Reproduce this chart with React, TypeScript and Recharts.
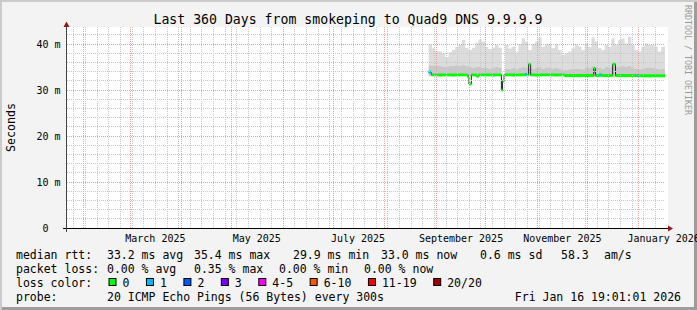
import React from "react";
import { ComposedChart, Area, XAxis, YAxis, ReferenceLine } from "recharts";

const FONT = "'DejaVu Sans Mono', 'Liberation Mono', monospace";
const DAY = 86400000;

// graph window (last 360 days)
const START = "2025-01-21T19:01:01Z";
const END = "2026-01-16T19:01:01Z";

// axis labels / grid
const X_LABELS = ["2025-03-16", "2025-05-16", "2025-07-16", "2025-09-16", "2025-11-16", "2026-01-16"];
const MONTH_STARTS = [
  "2025-02-01", "2025-03-01", "2025-04-01", "2025-05-01", "2025-06-01", "2025-07-01",
  "2025-08-01", "2025-09-01", "2025-10-01", "2025-11-01", "2025-12-01", "2026-01-01",
];
const FIRST_SUNDAY = "2025-01-26";
const MONTH_NAMES = ["January", "February", "March", "April", "May", "June", "July",
  "August", "September", "October", "November", "December"];
const Y_TICKS = [0, 10, 20, 30, 40];
const Y_TOP = 43.7;

// smoke: one sample every 2 days from SMOKE_FROM (ms values)
const SMOKE_FROM = "2025-08-27T12:00Z";
const SMOKE_STEP_DAYS = 2;
const SMOKE_MIN = [
  33.0, 33.0, 33.0, 32.9, 33.0, 33.0, 33.0, 32.9, 33.0, 33.0, 33.0, 33.0,
  33.0, 33.0, 32.9, 33.0, 33.0, 33.0, 33.0, 32.9, 33.0, 33.0,
  null,
  33.0, 33.0, 32.9, 33.0, 33.0, 33.0, 33.0, 33.0, 33.0, 32.9, 33.0, 33.0, 33.0,
  33.0, 33.0, 32.9, 33.0, 33.0, 32.8, 32.85, 32.85, 32.8, 32.7, 32.85, 32.85, 32.8,
  32.85, 32.85, 32.8, 32.85, 32.85, 32.85, 32.8, 32.85, 32.85, 32.85, 32.8, 32.85,
  32.85, 32.8, 32.85, 32.85, 32.85, 32.8, 32.85, 32.85, 32.85, 32.8, 32.85,
];
const SMOKE_MID = [
  35.4, 35.3, 35.2, 35.3, 35.1, 35.0, 35.2, 35.3, 35.4, 35.3, 35.5, 35.2,
  35.0, 34.8, 35.0, 35.1, 34.9, 34.8, 34.7, 34.9, 35.0, 34.8,
  null,
  34.7, 34.6, 34.8, 34.5, 34.9, 35.0, 34.8, 34.6, 34.7, 34.9, 35.0, 34.7, 34.8,
  34.9, 34.7, 34.8, 34.6, 34.3, 34.4, 34.5, 34.6, 34.7, 34.6, 34.5, 34.8, 34.9,
  35.3, 35.1, 34.9, 34.7, 35.0, 34.9, 35.2, 35.0, 35.1, 35.2, 35.0, 35.3,
  34.9, 34.6, 34.5, 34.7, 34.9, 34.8, 34.8, 34.7, 34.5, 34.7, 34.7,
];
const SMOKE_MAX = [
  39.9, 39.1, 38.5, 38.4, 38.0, 37.2, 38.2, 38.7, 39.4, 39.8, 40.9, 39.2,
  38.7, 39.2, 40.3, 41.0, 40.5, 39.4, 38.9, 39.2, 39.8, 39.2,
  null,
  39.8, 39.0, 39.4, 38.2, 40.0, 41.2, 40.5, 38.7, 40.0, 40.5, 41.4, 39.4, 40.0,
  39.9, 39.1, 40.0, 38.7, 37.6, 38.0, 38.4, 39.1, 39.8, 39.4, 38.7, 40.1, 39.4,
  41.4, 40.5, 39.1, 38.7, 39.8, 39.4, 41.2, 39.8, 40.9, 41.2, 40.1, 41.6,
  39.8, 38.7, 38.4, 39.4, 40.1, 39.8, 39.8, 39.4, 38.4, 39.4, 39.4,
];

// median rtt: value holds from each time until the next one
const MEDIAN_TIMES = [
  "2025-08-27T12:00Z", "2025-08-29T06:00Z", "2025-09-20T05:00Z", "2025-09-20T19:00Z",
  "2025-09-22T05:00Z", "2025-09-25T10:00Z", "2025-09-26T14:00Z", "2025-10-10T07:00Z",
  "2025-10-11T00:00Z", "2025-10-11T22:00Z", "2025-10-24T10:00Z", "2025-10-25T14:00Z",
  "2025-10-26T17:00Z", "2025-10-27T22:00Z", "2025-11-17T07:00Z", "2025-12-04T22:00Z",
  "2025-12-05T22:00Z", "2025-12-08T07:00Z", "2025-12-09T12:00Z", "2025-12-16T07:00Z",
  "2025-12-18T00:00Z", "2025-12-30T19:00Z", "2026-01-01T00:00Z", END,
];
const MEDIAN_VALUES = [
  33.9, 33.3, 32.7, 31.3, 33.3, 33.0, 33.3, 30.0, 32.0, 33.3, 33.4, 33.3,
  35.6, 33.3, 33.15, 34.7, 33.15, 33.3, 33.15, 35.6, 33.15, 33.15, 33.1,
];
const MEDIAN_LOSS = [1, 0, 0, 0, 0, 0, 0, 0, 0, 0, 1, 0, 0, 0, 0, 0, 0, 1, 0, 0, 0, 1, 0];
const HALF_W = 0.31; // half thickness of the loss-coloured median bar

const LOSS_LEGEND = [
  ["0", "#00ff00"], ["1", "#00b8ff"], ["2", "#0059ff"], ["3", "#7e00ff"],
  ["4-5", "#ff00ff"], ["6-10", "#ff5500"], ["11-19", "#ff0000"], ["20/20", "#a10000"],
];
const RTT_STATS = [["33.2 ms avg", 107], ["35.4 ms max", 194], ["29.9 ms min", 293],
  ["33.0 ms now", 381], ["0.6 ms sd", 480], ["58.3", 561], ["am/s", 604]];
const LOSS_STATS = [["0.00 % avg", 107], ["0.35 % max", 194], ["0.00 % min", 279], ["0.00 % now", 364]];

const t = (s: string) => Date.parse(s);

function steps(times: number[], vals: any[]) {
  const out: any[] = [];
  vals.forEach((v, i) => {
    out.push({ t: times[i], band: v });
    if (v != null && (i === vals.length - 1 || vals[i + 1] == null)) out.push({ t: times[i + 1], band: v });
  });
  return out;
}

const smokeTimes = SMOKE_MAX.map((_, k) => t(SMOKE_FROM) + k * SMOKE_STEP_DAYS * DAY).concat([t(END)]);
const smokeDark = steps(smokeTimes, SMOKE_MAX.map((m, k) => (m == null ? null : [SMOKE_MIN[k], SMOKE_MID[k]])));
const smokeLight = steps(smokeTimes, SMOKE_MAX.map((m, k) => (m == null ? null : [SMOKE_MID[k], m])));

const medTimes = MEDIAN_TIMES.map(t);
const medLine = steps(medTimes, MEDIAN_VALUES);
const greenBand = steps(medTimes, MEDIAN_VALUES.map((v) => [v - HALF_W, v + HALF_W]));
const blueBand = steps(medTimes, MEDIAN_VALUES.map((v, i) => (MEDIAN_LOSS[i] === 1 ? [v - HALF_W, v + HALF_W] : null)));

const weekLines: number[] = [];
for (let w = t(FIRST_SUNDAY); w < t(END); w += 7 * DAY) weekLines.push(w);
const minorY: number[] = [];
for (let v = 2; v < Y_TOP; v += 2) if (v % 10) minorY.push(v);

const monthLabel = (v: number) => {
  const d = new Date(v);
  return `${MONTH_NAMES[d.getUTCMonth()]} ${d.getUTCFullYear()}`;
};

const XTick = ({ x, y, payload }: any) => (
  <text x={x} y={y + 13.5} textAnchor="middle" fontFamily={FONT} fontSize={10} fill="#000">
    {monthLabel(payload.value)}
  </text>
);

const YTick = ({ x, y, payload }: any) => (
  <text x={payload.value === 0 ? x - 18.5 : x - 6.5} y={y + 3.6} textAnchor="end" fontFamily={FONT} fontSize={10} fill="#000">
    {payload.value === 0 ? "0" : `${payload.value} m`}
  </text>
);

export default function App() {
  let bx = 108.5;
  const boxes = LOSS_LEGEND.map(([label, color]) => {
    const x = bx;
    bx = x + 14.5 + label.length * 6.95 + 16;
    return (
      <g key={label}>
        <rect x={x + 0.5} y={278.5} width={7} height={7} fill={color} stroke="#000" />
        <text x={x + 14} y={286.5}>{label}</text>
      </g>
    );
  });

  return (
    <div style={{ position: "absolute", left: 0, top: 0, width: 697, height: 310, background: "#f3f3f3",
      boxShadow: "inset 2px 2px 0 #cbcbcb, inset -3px -3px 0 #9c9c9c" }}>
      <div style={{ position: "absolute", left: 67, top: 27, width: 601, height: 201, background: "#fff" }} />
      <div style={{ position: "absolute", left: 0, top: 0 }}>
        <ComposedChart width={697} height={310} margin={{ top: 27, right: 32, bottom: 62, left: 0 }}
          style={{ fontFamily: FONT }}>
          <XAxis dataKey="t" type="number" domain={[t(START), t(END)]} allowDataOverflow
            ticks={X_LABELS.map(t)} interval={0} tick={<XTick />} tickLine={false} axisLine={false}
            tickSize={0} tickMargin={0} height={20} />
          <YAxis type="number" domain={[0, Y_TOP]} allowDataOverflow ticks={Y_TICKS} interval={0}
            tick={<YTick />} tickLine={false} axisLine={false} tickSize={0} tickMargin={0} width={67} />

          <Area data={smokeLight} dataKey="band" type="stepAfter" fill="#dcdcdc" fillOpacity={1}
            stroke="none" isAnimationActive={false} dot={false} activeDot={false} />
          <Area data={smokeDark} dataKey="band" type="stepAfter" fill="#c8c8c8" fillOpacity={1}
            stroke="none" isAnimationActive={false} dot={false} activeDot={false} />

          {minorY.map((v) => (
            <ReferenceLine key={"hy" + v} y={v} stroke="#c8c8c8" strokeDasharray="1 1" shapeRendering="crispEdges" />
          ))}
          {weekLines.map((w) => (
            <ReferenceLine key={"wk" + w} x={w} stroke="#c8c8c8" strokeDasharray="1 1" shapeRendering="crispEdges" />
          ))}
          {Y_TICKS.filter((v) => v > 0).map((v) => (
            <ReferenceLine key={"my" + v} y={v} stroke="#eaa0a0" strokeDasharray="1 1" shapeRendering="crispEdges" />
          ))}
          {MONTH_STARTS.map((m) => (
            <ReferenceLine key={"mo" + m} x={t(m)} stroke="#eaa0a0" strokeDasharray="1 1" shapeRendering="crispEdges" />
          ))}

          {/* median: thin dark step line, then loss-coloured bars over it */}
          <Area data={medLine} dataKey="band" type="stepAfter" stroke="#202020" strokeWidth={1} fill="none"
            isAnimationActive={false} dot={false} activeDot={false} />
          <Area data={greenBand} dataKey="band" type="stepAfter" fill="#00ff00" fillOpacity={1}
            stroke="none" isAnimationActive={false} dot={false} activeDot={false} />
          <Area data={blueBand} dataKey="band" type="stepAfter" fill="#00b8ff" fillOpacity={1}
            stroke="none" isAnimationActive={false} dot={false} activeDot={false} />
        </ComposedChart>
      </div>

      <svg width={697} height={310} style={{ position: "absolute", left: 0, top: 0, pointerEvents: "none" }}
        fontFamily={FONT}>
        <line x1={63} y1={228.5} x2={668} y2={228.5} stroke="#000" />
        <polygon points="668,225.5 673,228.5 668,231.5" fill="#8b1a1a" />
        <line x1={66.5} y1={26} x2={66.5} y2={232} stroke="#444" />
        <polygon points="63.5,27 66.5,21.5 69.5,27" fill="#8b1a1a" />

        <text x={348} y={24} textAnchor="middle" fontSize={13.2} fill="#000">
          Last 360 Days from smokeping to Quad9 DNS 9.9.9.9
        </text>
        <text transform="translate(15,127.5) rotate(-90)" textAnchor="middle" fontSize={11.6} fill="#000">
          Seconds
        </text>
        <text transform="translate(684.5,5) rotate(90)" fontSize={8.3} fill="#9a9a9a">
          RRDTOOL / TOBI OETIKER
        </text>

        <g fontSize={11.5} fill="#000">
          <text x={16} y={258.5}>median rtt:</text>
          {RTT_STATS.map(([s, x]) => <text key={"r" + s} x={x as number} y={258.5}>{s}</text>)}
          <text x={16} y={272.5}>packet loss:</text>
          {LOSS_STATS.map(([s, x], i) => <text key={"l" + i} x={x as number} y={272.5}>{s}</text>)}
          <text x={16} y={286.5}>loss color:</text>
          {boxes}
          <text x={16} y={300.5}>probe:</text>
          <text x={107} y={300.5}>20 ICMP Echo Pings (56 Bytes) every 300s</text>
          <text x={681} y={300.5} textAnchor="end">Fri Jan 16 19:01:01 2026</text>
        </g>
      </svg>
    </div>
  );
}
